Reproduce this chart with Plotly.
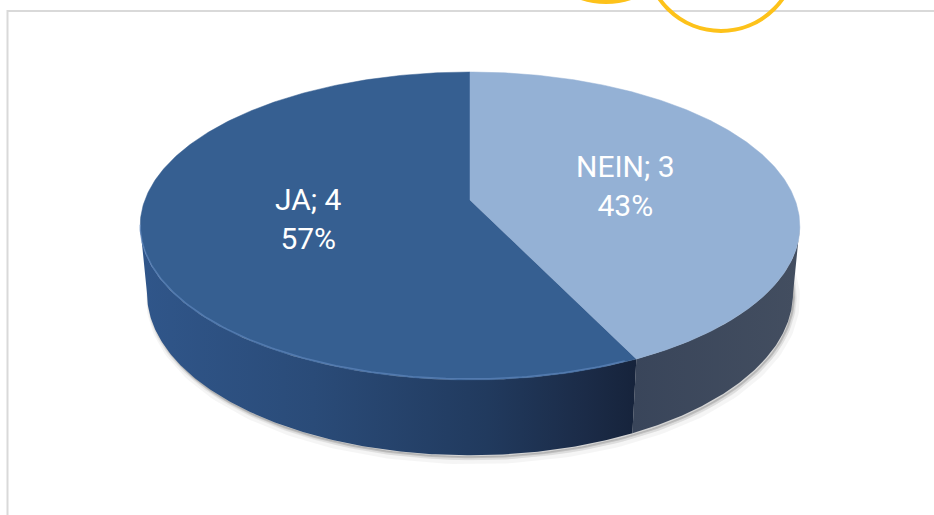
import numpy as np
import plotly.graph_objects as go

# ---- data ----
labels = ["JA", "NEIN"]
values = [4, 3]

# ---- style ----
TOP_COLORS = {"JA": "#365F91", "NEIN": "#94B1D5"}
SIDE_SCALES = {
    "JA": [[0, "#30568A"], [0.35, "#2A4B78"], [0.7, "#213A5E"], [0.9, "#1B2B47"], [1, "#16233B"]],
    "NEIN": [[0, "#39455A"], [1, "#434E60"]],
}
W, HGT = 934, 515

# projection parameters (tilted disk in perspective)
ALPHA = np.radians(27.4)
DIST = 5.26
KSC = 1710.0
CX, CY = 470.0, 200.0
DEPTH = 0.235


def proj(theta_deg, r=1.0, y=0.0):
    t = np.radians(np.asarray(theta_deg, dtype=float))
    x = r * np.sin(t)
    z = -r * np.cos(t)
    yc = y * np.cos(ALPHA) - z * np.sin(ALPHA)
    zc = y * np.sin(ALPHA) + z * np.cos(ALPHA)
    s = KSC / (DIST - zc)
    return CX + x * s, CY - yc * s


# slice angles: start at 12 o'clock, counterclockwise
total = float(sum(values))
bounds = []
start = 360.0
for v in values:
    end = start - v / total * 360.0
    bounds.append((end, start))
    start = end

# silhouette angles of the cylinder side
dense = np.linspace(0, 360, 3601)
sx_dense, _ = proj(dense, 1.0, -DEPTH / 2)
right_mask = (dense > 0) & (dense < 180)
left_mask = (dense > 180) & (dense < 360)
theta_r = dense[right_mask][np.argmax(sx_dense[right_mask])]
theta_l = dense[left_mask][np.argmin(sx_dense[left_mask])]

fig = go.Figure()

# soft shadow under the pie
ring = np.linspace(0, 360, 361)
bx, by = proj(ring, 1.0, -DEPTH)
for off, alpha, lw in [(5, 0.04, 8), (3, 0.06, 4), (2, 0.08, 2)]:
    fig.add_trace(go.Scatter(
        x=bx + off * 0.6, y=by + off, mode="lines", fill="toself",
        fillcolor=f"rgba(0,0,0,{alpha})", line=dict(color=f"rgba(0,0,0,{alpha})", width=lw),
        hoverinfo="skip", showlegend=False))

# visible side walls
for lab, (a, b) in zip(labels, bounds):
    lo, hi = max(a, theta_r), min(b, theta_l)
    if hi <= lo:
        continue
    th = np.linspace(lo, hi, 200)
    tx, ty = proj(th, 1.0, 0.0)
    bxs, bys = proj(th[::-1], 1.0, -DEPTH)
    px = np.concatenate([tx, bxs, tx[:1]])
    py = np.concatenate([ty, bys, ty[:1]])
    fig.add_trace(go.Scatter(
        x=px, y=py, mode="lines", fill="toself",
        fillgradient=dict(type="horizontal", colorscale=SIDE_SCALES[lab]),
        line=dict(width=0, color="rgba(0,0,0,0)"),
        hoverinfo="skip", showlegend=False))

# top faces
for lab, (a, b) in zip(labels, bounds):
    th = np.linspace(a, b, 300)
    rx, ry = proj(th, 1.0, 0.0)
    px = np.concatenate([[CX], rx, [CX]])
    py = np.concatenate([[CY], ry, [CY]])
    fig.add_trace(go.Scatter(
        x=px, y=py, mode="lines", fill="toself", fillcolor=TOP_COLORS[lab],
        line=dict(width=0.5, color=TOP_COLORS[lab]),
        hoverinfo="skip", showlegend=False))

# subtle bevel highlight along the front rim
ja_a, ja_b = bounds[0]
th = np.linspace(ja_a + 2, theta_l, 150)
hx, hy = proj(th, 1.0, 0.0)
fig.add_trace(go.Scatter(x=hx, y=hy - 1, mode="lines",
                         line=dict(color="rgba(110,150,205,0.5)", width=1.5),
                         hoverinfo="skip", showlegend=False))

# data labels
for lab, v, (a, b) in zip(labels, values, bounds):
    mid = (a + b) / 2.0
    lx, ly = proj(mid, 0.5, 0.0)
    pct = round(v / total * 100)
    fig.add_annotation(x=float(lx), y=float(ly), text=f"{lab}; {v}<br>{pct}%",
                       showarrow=False, xanchor="center", yanchor="middle", yshift=-2,
                       font=dict(family="Roboto", size=30, color="white"))

# frame and decorative circles
fig.add_shape(type="rect", x0=7.5, y0=11, x1=W + 10, y1=HGT + 10,
              line=dict(color="#D9D9D9", width=2), layer="below")
fig.add_shape(type="circle", x0=606 - 74, x1=606 + 74, y0=-72 - 74, y1=-72 + 74,
              line=dict(color="#FDC21A", width=4), layer="above")
fig.add_shape(type="circle", x0=721 - 75, x1=721 + 75, y0=-44 - 75, y1=-44 + 75,
              line=dict(color="#FDC21A", width=4), layer="above")

fig.update_layout(
    width=W, height=HGT, autosize=False,
    margin=dict(l=0, r=0, t=0, b=0),
    paper_bgcolor="white", plot_bgcolor="white",
    xaxis=dict(visible=False, range=[0, W], fixedrange=True),
    yaxis=dict(visible=False, range=[HGT, 0], fixedrange=True),
    showlegend=False, hovermode=False,
)

fig.write_html("out.html", config={"displayModeBar": False},
               post_script="document.body.style.margin='0';document.body.style.overflow='hidden';")
